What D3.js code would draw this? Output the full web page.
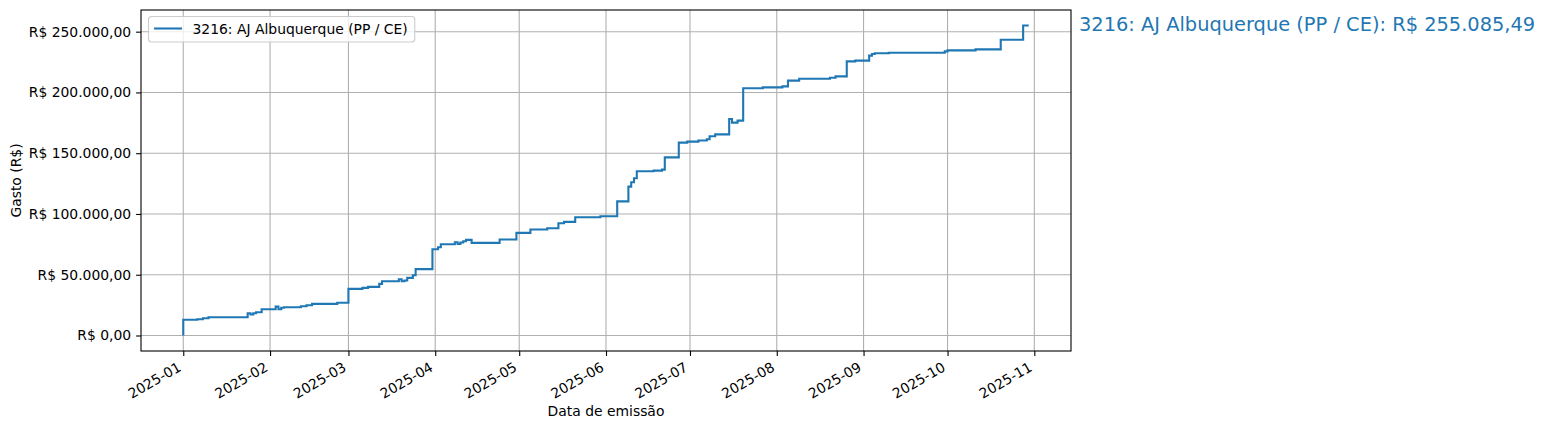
<!DOCTYPE html>
<html>
<head>
<meta charset="utf-8">
<script src="https://cdn.jsdelivr.net/npm/d3@7"></script>
<style>
    body { margin: 0; background: #fff; }
    text { font-family: "DejaVu Sans", sans-serif; }
</style>
</head>
<body>
<svg id="chart"></svg>
<script>
// cumulative spending (step points)
const stepDates = [
    '2025-01-01', '2025-01-01', '2025-01-06', '2025-01-08', '2025-01-10', '2025-01-24', '2025-01-25', '2025-01-26',
    '2025-01-27', '2025-01-29', '2025-02-03', '2025-02-04', '2025-02-05', '2025-02-06', '2025-02-12', '2025-02-14',
    '2025-02-16', '2025-02-25', '2025-03-01', '2025-03-06', '2025-03-08', '2025-03-12', '2025-03-13', '2025-03-19',
    '2025-03-20', '2025-03-21', '2025-03-22', '2025-03-24', '2025-03-25', '2025-03-31', '2025-04-02', '2025-04-03',
    '2025-04-08', '2025-04-09', '2025-04-10', '2025-04-11', '2025-04-12', '2025-04-14', '2025-04-24', '2025-04-30',
    '2025-05-05', '2025-05-11', '2025-05-15', '2025-05-17', '2025-05-21', '2025-05-30', '2025-06-05', '2025-06-09',
    '2025-06-10', '2025-06-11', '2025-06-12', '2025-06-18', '2025-06-21', '2025-06-22', '2025-06-27', '2025-06-30',
    '2025-07-04', '2025-07-07', '2025-07-08', '2025-07-10', '2025-07-15', '2025-07-16', '2025-07-18', '2025-07-20',
    '2025-07-27', '2025-08-03', '2025-08-05', '2025-08-09', '2025-08-20', '2025-08-22', '2025-08-26', '2025-08-29',
    '2025-09-03', '2025-09-04', '2025-09-05', '2025-09-10', '2025-09-30', '2025-10-01', '2025-10-11', '2025-10-20',
    '2025-10-28', '2025-10-30'
];
const stepValues = [
    0, 12900, 13400, 14200, 15050, 18340, 17300, 18340,
    19160, 21600, 23800, 21600, 22780, 23270, 24100, 24900,
    26050, 26900, 38400, 39200, 40000, 42500, 44650, 46300,
    44650, 45200, 47400, 49600, 54600, 71000, 72600, 75100,
    76700, 75400, 76500, 77550, 78700, 76200, 78950, 84460,
    87170, 88300, 92350, 93500, 97300, 98100, 110400, 122500,
    126100, 129400, 135100, 135700, 136500, 146600, 158700, 159500,
    160400, 161500, 163900, 165500, 178200, 175200, 176800, 203400,
    204200, 205000, 209700, 211300, 212100, 213200, 225600, 226150,
    230260, 231650, 232200, 232700, 233800, 234600, 235400, 243400,
    255085.49, 255085.49
];
const seriesName = '3216: AJ Albuquerque (PP / CE)';
const yTicks = [0, 50000, 100000, 150000, 200000, 250000];
const xTickLabels = ['2025-01', '2025-02', '2025-03', '2025-04', '2025-05', '2025-06',
    '2025-07', '2025-08', '2025-09', '2025-10', '2025-11'];

let parseDay = d3.timeParse('%Y-%m-%d');
let parseMonth = d3.timeParse('%Y-%m');
let points = stepDates.map(function (d, i) {
    return {date: parseDay(d), value: stepValues[i]};
});

let brl = d3.formatLocale({
    decimal: ',', thousands: '.', grouping: [3], currency: ['R$ ', '']
});
let fmtMoney = brl.format('$,.2f');

let margin = {top: 10, left: 141};
let width = 930;
let height = 341;
let color = '#1f77b4';

let svg = d3.select('#chart')
    .attr('width', 1547)
    .attr('height', 430);

let g = svg.append('g')
    .attr('transform', 'translate(' + margin.left + ',' + margin.top + ')');

// matplotlib style 5% margins
let xExt = d3.extent(points, function (d) { return d.date; });
let xPad = (xExt[1] - xExt[0]) * 0.05;
let xScale = d3.scaleTime()
    .domain([new Date(+xExt[0] - xPad), new Date(+xExt[1] + xPad)])
    .range([0, width]);

let yMax = d3.max(points, function (d) { return d.value; });
let yPad = yMax * 0.05;
let yScale = d3.scaleLinear()
    .domain([-yPad, yMax + yPad])
    .range([height, 0]);

let xTicks = xTickLabels.map(function (s) { return parseMonth(s); });

// grid
g.append('g').selectAll('line')
    .data(xTicks)
    .enter()
    .append('line')
    .attr('x1', function (d) { return xScale(d); })
    .attr('x2', function (d) { return xScale(d); })
    .attr('y1', 0)
    .attr('y2', height)
    .style('stroke', '#b0b0b0')
    .style('stroke-width', 1.1);

g.append('g').selectAll('line')
    .data(yTicks)
    .enter()
    .append('line')
    .attr('x1', 0)
    .attr('x2', width)
    .attr('y1', function (d) { return yScale(d); })
    .attr('y2', function (d) { return yScale(d); })
    .style('stroke', '#b0b0b0')
    .style('stroke-width', 1.1);

// axes
let xAxis = d3.axisBottom(xScale)
    .tickValues(xTicks)
    .tickSize(4.9)
    .tickPadding(4.9)
    .tickFormat(function (d, i) { return xTickLabels[i]; });

let xAxisG = g.append('g')
    .attr('transform', 'translate(0,' + height + ')')
    .call(xAxis);
xAxisG.select('.domain').remove();
xAxisG.selectAll('.tick line').style('stroke', '#000').style('stroke-width', 1.1);
xAxisG.selectAll('.tick text')
    .style('font-size', '13.9px')
    .style('fill', '#000')
    .attr('text-anchor', 'end')
    .attr('y', 0)
    .attr('dy', 0)
    .attr('transform', 'translate(-1.7,19) rotate(-30)');

let yAxis = d3.axisLeft(yScale)
    .tickValues(yTicks)
    .tickSize(4.9)
    .tickPadding(4.9)
    .tickFormat(fmtMoney);

let yAxisG = g.append('g').call(yAxis);
yAxisG.select('.domain').remove();
yAxisG.selectAll('.tick line').style('stroke', '#000').style('stroke-width', 1.1);
yAxisG.selectAll('.tick text')
    .style('font-size', '13.9px')
    .style('fill', '#000');

// the step line
let line = d3.line()
    .curve(d3.curveStepAfter)
    .x(function (d) { return xScale(d.date); })
    .y(function (d) { return yScale(d.value); });

g.append('path')
    .datum(points)
    .attr('d', line)
    .style('fill', 'none')
    .style('stroke', color)
    .style('stroke-width', 2.1)
    .style('stroke-linejoin', 'miter')
    .style('stroke-linecap', 'butt');

// frame
g.append('rect')
    .attr('width', width)
    .attr('height', height)
    .style('fill', 'none')
    .style('stroke', '#000')
    .style('stroke-width', 1.1);

// axis labels
g.append('text')
    .attr('x', width / 2)
    .attr('y', 406)
    .attr('text-anchor', 'middle')
    .style('font-size', '13.9px')
    .text('Data de emissão');

svg.append('text')
    .attr('transform', 'translate(21,' + (margin.top + height / 2) + ') rotate(-90)')
    .attr('text-anchor', 'middle')
    .style('font-size', '13.9px')
    .text('Gasto (R$)');

// legend
let legend = g.append('g').attr('transform', 'translate(7.5,6.5)');
let legendText = legend.append('text')
    .attr('x', 44)
    .attr('y', 17)
    .style('font-size', '13.9px')
    .text(seriesName);
let lw = legendText.node().getComputedTextLength();
legend.insert('rect', 'text')
    .attr('width', 44 + lw + 7)
    .attr('height', 25.5)
    .attr('rx', 3)
    .style('fill', '#fff')
    .style('fill-opacity', 0.8)
    .style('stroke', '#cccccc')
    .style('stroke-width', 1.1);
legend.append('line')
    .attr('x1', 5.5)
    .attr('x2', 33.5)
    .attr('y1', 12)
    .attr('y2', 12)
    .style('stroke', color)
    .style('stroke-width', 2.1);

// total annotation at the right
let last = points[points.length - 1];
svg.append('text')
    .attr('x', margin.left + width + 8)
    .attr('y', 31)
    .style('font-size', '19.4px')
    .style('fill', color)
    .text(seriesName + ': ' + fmtMoney(last.value));
</script>
</body>
</html>
